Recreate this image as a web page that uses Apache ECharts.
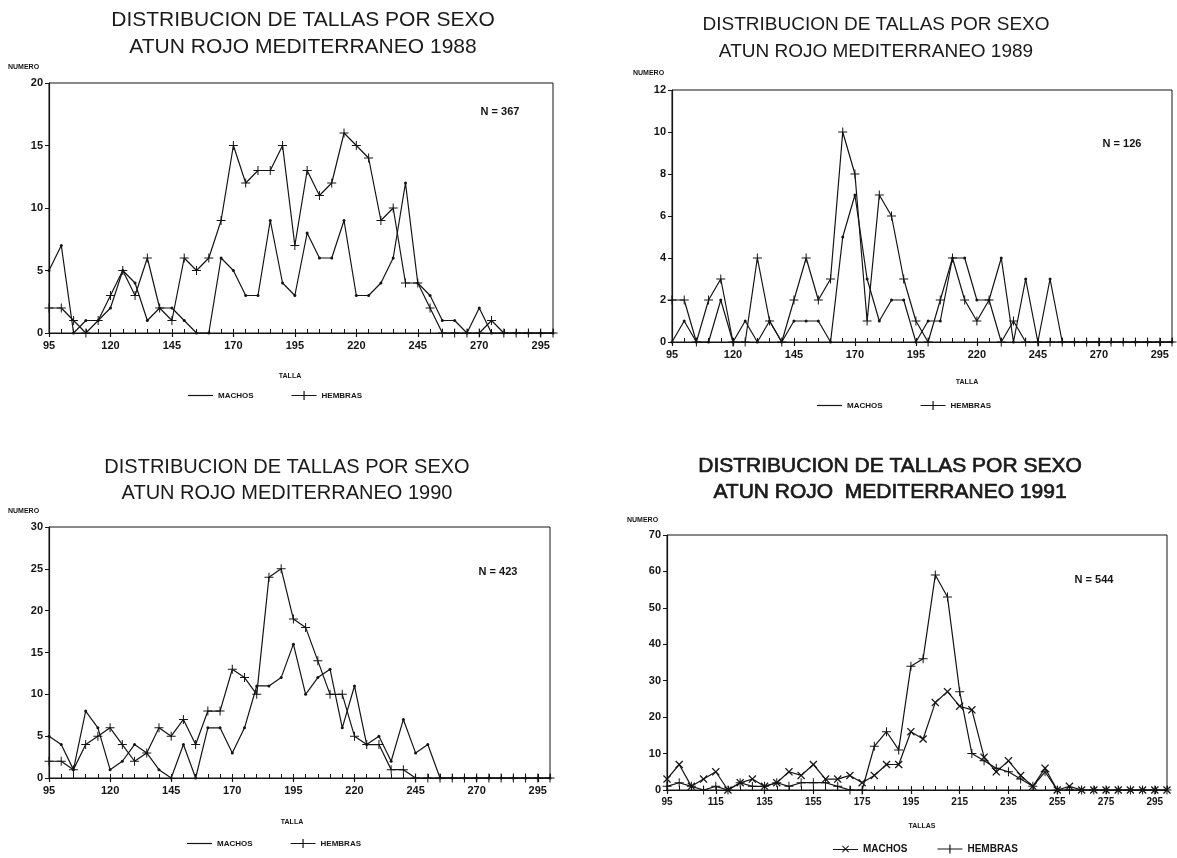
<!DOCTYPE html>
<html>
<head>
<meta charset="utf-8">
<script src="https://cdn.jsdelivr.net/npm/echarts@6/dist/echarts.min.js"></script>
<style>
html,body{margin:0;padding:0;background:#fff;}
#chart{width:1177px;height:858px;}
</style>
</head>
<body>
<div id="chart"></div>
<script>
// ---- categories (TALLA, step 5) ----
const tallas = ['95','100','105','110','115','120','125','130','135','140',
  '145','150','155','160','165','170','175','180','185','190',
  '195','200','205','210','215','220','225','230','235','240',
  '245','250','255','260','265','270','275','280','285','290','295','300'];

// ---- series values ----
const machos1988 = [5,7,0,1,1,2,5,4,1,2, 2,1,0,0,6,5,3,3,9,4, 3,8,6,6,9,3,3,4,6,12, 4,3,1,1,0,2,0,0,0,0,0,0];
const hembras1988 = [2,2,1,0,1,3,5,3,6,2, 1,6,5,6,9,15,12,13,13,15, 7,13,11,12,16,15,14,9,10,4, 4,2,0,0,0,0,1,0,0,0,0,0];

const machos1989 = [0,1,0,0,2,0,1,0,1,0, 1,1,1,0,5,7,3,1,2,2, 0,1,1,4,4,2,2,4,0,3, 0,3,0,0,0,0,0,0,0,0,0,0];
const hembras1989 = [2,2,0,2,3,0,0,4,1,0, 2,4,2,3,10,8,1,7,6,3, 1,0,2,4,2,1,2,0,1,0, 0,0,0,0,0,0,0,0,0,0,0,0];

const machos1990 = [5,4,1,8,6,1,2,4,3,1, 0,4,0,6,6,3,6,11,11,12, 16,10,12,13,6,11,4,5,2,7, 3,4,0,0,0,0,0,0,0,0,0,0];
const hembras1990 = [2,2,1,4,5,6,4,2,3,6, 5,7,4,8,8,13,12,10,24,25, 19,18,14,10,10,5,4,4,1,1, 0,0,0,0,0,0,0,0,0,0,0,0];

const machos1991 = [3,7,1,3,5,0,2,3,1,2, 5,4,7,3,3,4,2,4,7,7, 16,14,24,27,23,22,9,5,8,4, 1,6,0,1,0,0,0,0,0,0,0,0];
const hembras1991 = [1,2,1,0,1,0,2,1,1,2, 1,2,2,2,1,0,0,12,16,11, 34,36,59,53,27,10,8,6,5,3, 1,5,0,0,0,0,0,0,0,0,0,0];

// ---- texts ----
const titleLine1 = 'DISTRIBUCION DE TALLAS POR SEXO';
const titles2 = ['ATUN ROJO MEDITERRANEO 1988','ATUN ROJO MEDITERRANEO 1989','ATUN ROJO MEDITERRANEO 1990','ATUN ROJO  MEDITERRANEO 1991'];
const nLabels = ['N = 367','N = 126','N = 423','N = 544'];
const xNames = ['TALLA','TALLA','TALLA','TALLAS'];
const yMax = [20, 12, 30, 70];
const yStep = [5, 2, 5, 10];

const INK = '#141414';
const plusPath = 'path://M4,0H5V4H9V5H5V9H4V5H0V4H4Z';
const crossPath = 'path://M0,1L1,0L4.5,3.5L8,0L9,1L5.5,4.5L9,8L8,9L4.5,5.5L1,9L0,8L3.5,4.5Z';
const legLine = 'path://M0,4.4H25V5.6H0Z';
const legPlus = 'path://M0,4.4H11.9V0.5H13.1V4.4H25V5.6H13.1V9.5H11.9V5.6H0Z';
const legCross = 'path://M0,4.4H25V5.6H0Z M9,1.7L9.7,1L16,7.3L15.3,8Z M15.3,1L16,1.7L9.7,8L9,7.3Z';

const panels = [
  {grid:{left:49, top:83, width:504, height:250}, labelInt:4, title:{x:303,y1:20,y2:47,size:21,bold:false},
   n:{x:500,y:112}, numero:{x:8,y:67}, xname:{x:290,y:376}, legend:{left:183, top:386},
   m: machos1988, h: hembras1988},
  {grid:{left:672, top:90, width:500, height:252}, labelInt:4, title:{x:876,y1:25,y2:52,size:19,bold:false},
   n:{x:1122,y:144}, numero:{x:633,y:73}, xname:{x:967,y:382}, legend:{left:812, top:396},
   m: machos1989, h: hembras1989},
  {grid:{left:49, top:527, width:501, height:251}, labelInt:4, title:{x:287,y1:467,y2:493,size:20,bold:false},
   n:{x:498,y:572}, numero:{x:8,y:511}, xname:{x:292,y:822}, legend:{left:182, top:834},
   m: machos1990, h: hembras1990},
  {grid:{left:667, top:535, width:500, height:255}, labelInt:3, title:{x:890,y1:466,y2:492,size:21,bold:true},
   n:{x:1094,y:580}, numero:{x:627,y:520}, xname:{x:922,y:826}, legend:{left:828, top:839},
   m: machos1991, h: hembras1991}
];

const font = 'Liberation Sans, Arial, sans-serif';
const option = {
  animation: false,
  backgroundColor: '#ffffff',
  grid: [], xAxis: [], yAxis: [], series: [], legend: [], graphic: []
};

panels.forEach((p, i) => {
  const last = i === 3;
  option.grid.push(Object.assign({show:true, borderColor:INK, borderWidth:1, backgroundColor:'transparent'}, p.grid));
  // main category axis: small inner ticks at every 5 cm, labels every 25 (or 20)
  option.xAxis.push({
    type:'category', gridIndex:i, data:tallas, boundaryGap:false, position:'bottom',
    axisLine:{show:true, lineStyle:{color:INK, width:1.2}},
    axisTick:{show:true, interval:0, inside:true, length:4, lineStyle:{color:INK, width:1}},
    axisLabel:{interval:p.labelInt, color:INK, fontFamily:font, fontWeight:'bold', fontSize: last ? 10 : 11, margin:7},
    splitLine:{show:false}
  });
  option.yAxis.push({
    type:'value', gridIndex:i, min:0, max:yMax[i], interval:yStep[i],
    axisLine:{show:true, lineStyle:{color:INK, width:1.2}},
    axisTick:{show:true, inside:false, length:4, lineStyle:{color:INK}},
    axisLabel:{color:INK, fontFamily:font, fontWeight:'bold', fontSize:11, margin:6},
    splitLine:{show:false}
  });
  const suffix = last ? ' ' : '';
  option.series.push({
    type:'line', name:'MACHOS' + suffix, xAxisIndex:i, yAxisIndex:i, data:p.m,
    symbol: last ? crossPath : 'circle', symbolSize: last ? 8 : 3, showSymbol:true, showAllSymbol:true,
    lineStyle:{color:INK, width:1.2}, itemStyle:{color:INK}, emphasis:{disabled:true}, z:3
  });
  option.series.push({
    type:'line', name:'HEMBRAS' + suffix, xAxisIndex:i, yAxisIndex:i, data:p.h,
    symbol: plusPath, symbolSize: 9, showSymbol:true, showAllSymbol:true,
    lineStyle:{color:INK, width:1.2}, itemStyle:{color:INK}, emphasis:{disabled:true}, z:3
  });
  option.legend.push({
    data:[{name:'MACHOS' + suffix, icon: last ? legCross : legLine}, {name:'HEMBRAS' + suffix, icon: legPlus}],
    left:p.legend.left, top:p.legend.top,
    itemWidth: 25, itemHeight: 10, itemGap: last ? 30 : 38,
    selectedMode:false, formatter: n => n.trim(),
    textStyle:{color:INK, fontFamily:font, fontWeight:'bold', fontSize: last ? 10 : 8}
  });
  const t = p.title;
  const tStyle = {fill:'#1a1a1a', fontFamily:font, fontSize:t.size, fontWeight:'normal',
    textAlign:'center', textVerticalAlign:'middle', align:'center', verticalAlign:'middle'};
  if (t.bold) { tStyle.stroke = '#1a1a1a'; tStyle.lineWidth = 0.7; }
  option.graphic.push({type:'text', x:t.x, y:t.y1, silent:true, style:Object.assign({text:titleLine1}, tStyle)});
  option.graphic.push({type:'text', x:t.x, y:t.y2, silent:true, style:Object.assign({text:titles2[i]}, tStyle)});
  option.graphic.push({type:'text', x:p.n.x, y:p.n.y, silent:true, style:{text:nLabels[i], fill:INK, fontFamily:font,
    fontWeight:'bold', fontSize:11, textAlign:'center', textVerticalAlign:'middle', align:'center', verticalAlign:'middle'}});
  option.graphic.push({type:'text', x:p.numero.x, y:p.numero.y, silent:true, style:{text:'NUMERO', fill:INK, fontFamily:font,
    fontWeight:'bold', fontSize:7, textAlign:'left', textVerticalAlign:'middle', align:'left', verticalAlign:'middle'}});
  option.graphic.push({type:'text', x:p.xname.x, y:p.xname.y, silent:true, style:{text:xNames[i], fill:INK, fontFamily:font,
    fontWeight:'bold', fontSize:7, textAlign:'center', textVerticalAlign:'middle', align:'center', verticalAlign:'middle'}});
});

// secondary axes: longer crossing ticks at the labelled tallas
panels.forEach((p, i) => {
  option.xAxis.push({
    type:'category', gridIndex:i, data:tallas, boundaryGap:false, position:'bottom', offset:0,
    axisLine:{show:false}, axisLabel:{show:false}, splitLine:{show:false},
    axisTick:{show:true, interval:p.labelInt, inside:false, length:4, lineStyle:{color:INK, width:1.2}}
  });
});

const chart = echarts.init(document.getElementById('chart'), null, {renderer:'canvas'});
chart.setOption(option);
</script>
</body>
</html>
